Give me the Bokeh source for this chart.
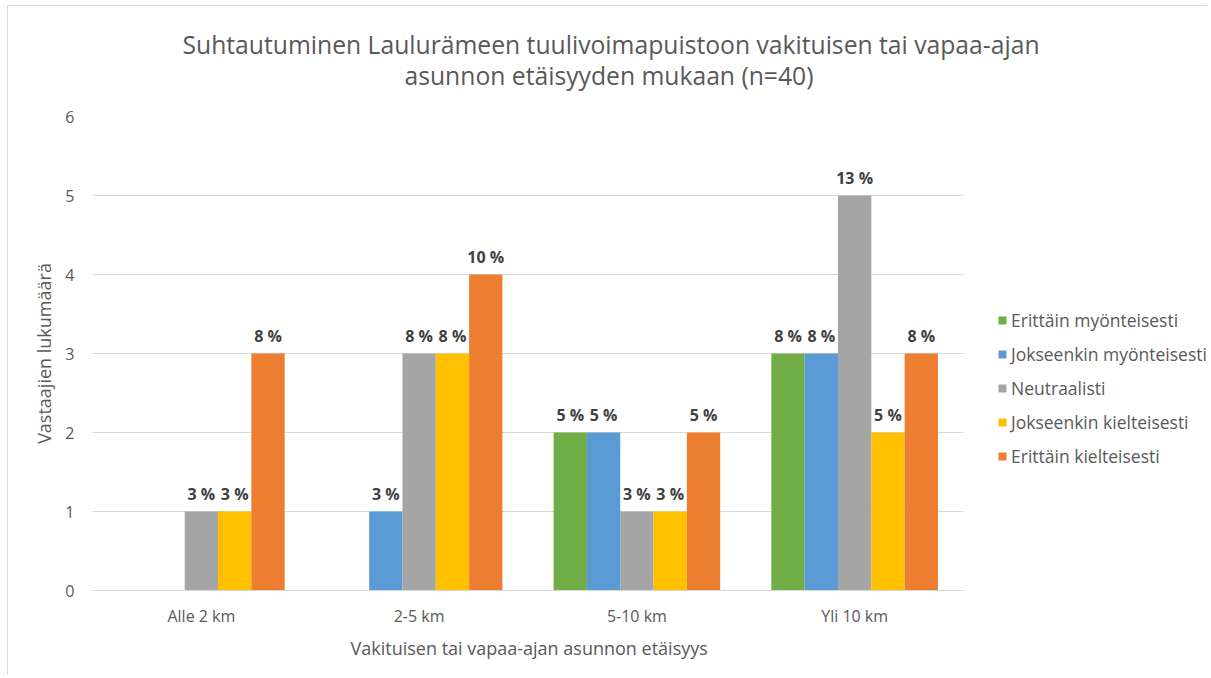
from bokeh.plotting import figure
from bokeh.models import (ColumnDataSource, Range1d, FixedTicker, Legend, LegendItem, Title)
from bokeh.transform import dodge
from bokeh.core.properties import value
from bokeh.embed import file_html
from bokeh.resources import INLINE

categories = ["Alle 2 km", "2-5 km", "5-10 km", "Yli 10 km"]
series_names = ["Erittäin myönteisesti", "Jokseenkin myönteisesti", "Neutraalisti",
                "Jokseenkin kielteisesti", "Erittäin kielteisesti"]
erittain_myont = [0, 0, 2, 3]
jokseenkin_myont = [0, 1, 2, 3]
neutraalisti = [1, 3, 1, 5]
jokseenkin_kielt = [1, 3, 1, 2]
erittain_kielt = [3, 4, 2, 3]
n_total = 40
colors = ["#70AD47", "#5B9BD5", "#A5A5A5", "#FFC000", "#ED7D31"]
y_ticks = [0, 1, 2, 3, 4, 5, 6]
title_line1 = "Suhtautuminen Laulurämeen tuulivoimapuistoon vakituisen tai vapaa-ajan"
title_line2 = "asunnon etäisyyden mukaan (n=40)"
x_title = "Vakituisen tai vapaa-ajan asunnon etäisyys"
y_title = "Vastaajien lukumäärä"

series_values = [erittain_myont, jokseenkin_myont, neutraalisti, jokseenkin_kielt, erittain_kielt]
x_idx = list(range(len(categories)))

FONT = "Open Sans"
GRAY = "#595959"

p = figure(x_range=Range1d(-0.5, 4.625), y_range=Range1d(0, 6), width=1200, height=670,
           output_backend="svg", toolbar_location=None,
           min_border_left=84, min_border_right=0, min_border_top=110, min_border_bottom=86)
p.styles = {"margin-left": "7px", "margin-top": "5px",
            "border-left": "1px solid #d9d9d9", "border-top": "1px solid #d9d9d9"}

# title (two centred lines)
p.title.text = title_line1
p.title.align = "left"
p.title.offset = 90
p.title.text_font = FONT
p.title.text_font_size = "24.7px"
p.title.text_font_style = "normal"
p.title.text_color = GRAY
p.title.standoff = -9

spacer = Title(text=" ", text_font=FONT, text_font_size="10px", standoff=9)
p.add_layout(spacer, "above")
t2 = Title(text=title_line2, align="left", offset=312, text_font=FONT, text_font_size="24.7px",
           text_font_style="normal", text_color=GRAY, standoff=0)
p.add_layout(t2, "above")

bw = 0.153
offsets = [-2 * bw, -bw, 0, bw, 2 * bw]
items = []
for name, vals, col, off in zip(series_names, series_values, colors, offsets):
    src = ColumnDataSource(dict(x=x_idx, val=vals))
    r = p.vbar(x=dodge("x", off), top="val", width=bw, source=src,
               fill_color=col, line_color=None)
    items.append(LegendItem(label=name, renderers=[r]))
    nz = [(i, v) for i, v in zip(x_idx, vals) if v > 0]
    lsrc = ColumnDataSource(dict(x=[i for i, v in nz], val=[v for i, v in nz],
                                 lab=["%d %%" % int(v * 100 / n_total + 0.5) for i, v in nz]))
    p.text(x=dodge("x", off), y="val", text="lab", source=lsrc,
           text_align="center", text_baseline="bottom", y_offset=-7,
           text_font=value(FONT), text_font_size="16px", text_font_style="bold",
           text_color="#404040")

legend = Legend(items=items, location=(905, 122), padding=0, margin=0,
                border_line_color=None, background_fill_alpha=0,
                glyph_width=10, glyph_height=10, label_height=24, spacing=10,
                label_standoff=4, label_text_font=FONT, label_text_font_size="17.5px",
                label_text_color=GRAY)
p.add_layout(legend, "center")

p.outline_line_color = None
p.xgrid.grid_line_color = None
p.ygrid.grid_line_color = "#d9d9d9"
p.ygrid.grid_line_width = 1
p.ygrid.cross_bounds = (-0.5, 3.5)
p.yaxis.ticker = FixedTicker(ticks=y_ticks)
p.xaxis.ticker = FixedTicker(ticks=x_idx)
p.xaxis.major_label_overrides = {i: c for i, c in zip(x_idx, categories)}
p.xaxis.bounds = (-0.5, 3.5)

p.yaxis.axis_label = y_title
for ax in (p.xaxis[0], p.yaxis[0]):
    ax.major_tick_line_color = None
    ax.minor_tick_line_color = None
    ax.major_tick_out = 0
    ax.minor_tick_out = 0
    ax.major_label_text_font = FONT
    ax.major_label_text_font_size = "16px"
    ax.major_label_text_color = GRAY
    ax.axis_label_text_font = FONT
    ax.axis_label_text_font_size = "18px"
    ax.axis_label_text_font_style = "normal"
    ax.axis_label_text_color = GRAY
p.xaxis.axis_line_color = "#d9d9d9"
p.yaxis.axis_line_color = None
p.xaxis.major_label_standoff = 14
p.yaxis.major_label_standoff = 18
p.yaxis.axis_label_standoff = 6

# x-axis title centred under the bar area
xt = Title(text=x_title, align="left", offset=258, vertical_align="top",
           text_font=FONT, text_font_size="18px", text_font_style="normal",
           text_color=GRAY, standoff=12)
p.add_layout(xt, "below")

open("out.html", "w").write(file_html(p, INLINE))
